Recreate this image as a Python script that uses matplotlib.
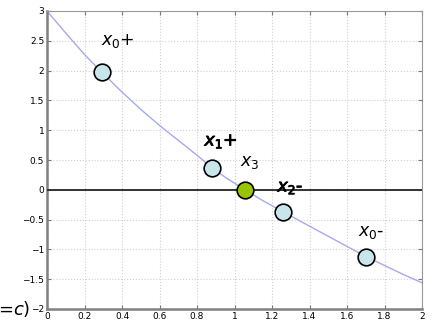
import numpy as np
import matplotlib.pyplot as plt
import matplotlib.patheffects as pe

# curve
curve_x = [0.0, 0.1, 0.2, 0.293, 0.4, 0.5, 0.6, 0.7, 0.8, 0.88, 0.96, 1.056,
           1.15, 1.26, 1.4, 1.5, 1.6, 1.7, 1.8, 1.9, 2.0]
curve_y = [3.0, 2.63, 2.27, 1.97, 1.64, 1.35, 1.08, 0.83, 0.58, 0.37, 0.19, 0.0,
           -0.18, -0.37, -0.61, -0.78, -0.95, -1.12, -1.27, -1.42, -1.56]

# iteration points
pt_x = [0.293, 0.88, 1.26, 1.70]
pt_y = [1.97, 0.37, -0.37, -1.12]
root_x = [1.056]
root_y = [0.0]

labels = [r"$x_{\mathrm{0}}$+", r"$x_1$+", r"$x_3$", r"$x_2$-", r"$x_{\mathrm{0}}$-"]
label_x = [0.38, 0.93, 1.08, 1.30, 1.73]
label_y = [2.49, 0.81, 0.47, 0.04, -0.71]
label_bold = [False, True, False, True, False]

fig = plt.figure(figsize=(4.38, 3.2), dpi=100)
ax = fig.add_axes([47 / 438, 11 / 320, 375 / 438, 298 / 320])

ax.plot(curve_x, curve_y, color="#a8a8f0", lw=1.0, zorder=2)
ax.axhline(0, color="#333333", lw=1.4, zorder=3)
ax.plot(pt_x, pt_y, "o", ms=12, mfc="#c8e6ea", mec="black", mew=1.2, zorder=4)
ax.plot(root_x, root_y, "o", ms=12, mfc="#99c400", mec="black", mew=1.2, zorder=4)

for t, lx, ly, b in zip(labels, label_x, label_y, label_bold):
    txt = ax.text(lx, ly, t, fontsize=12.5, ha="center", va="center", zorder=5)
    if b:
        txt.set_path_effects([pe.withStroke(linewidth=0.6, foreground="black")])

ax.set_xlim(0, 2)
ax.set_ylim(-2, 3)
ax.set_xticks(np.arange(0, 2.01, 0.2))
ax.set_yticks(np.arange(-2, 3.01, 0.5))
ax.set_xticklabels(["0", "0.2", "0.4", "0.6", "0.8", "1", "1.2", "1.4", "1.6", "1.8", "2"])
ax.set_yticklabels(["\u22122", "\u22121.5", "\u22121", "\u22120.5", "0", "0.5", "1", "1.5", "2", "2.5", "3"])
ax.tick_params(direction="in", top=True, right=True, labelsize=6.5, length=3,
               color="#777777", pad=2)
ax.grid(True, ls=":", color="#d0d0d0", lw=0.8)
for s in ["left", "bottom"]:
    ax.spines[s].set_color("#808080")
    ax.spines[s].set_linewidth(1.8)
for s in ["top", "right"]:
    ax.spines[s].set_color("#999999")
    ax.spines[s].set_linewidth(0.8)

fig.text(30 / 438, 1 - 309 / 320, r"=$c$)", fontsize=13, ha="right", va="center")

fig.savefig("out.png", dpi=100)
